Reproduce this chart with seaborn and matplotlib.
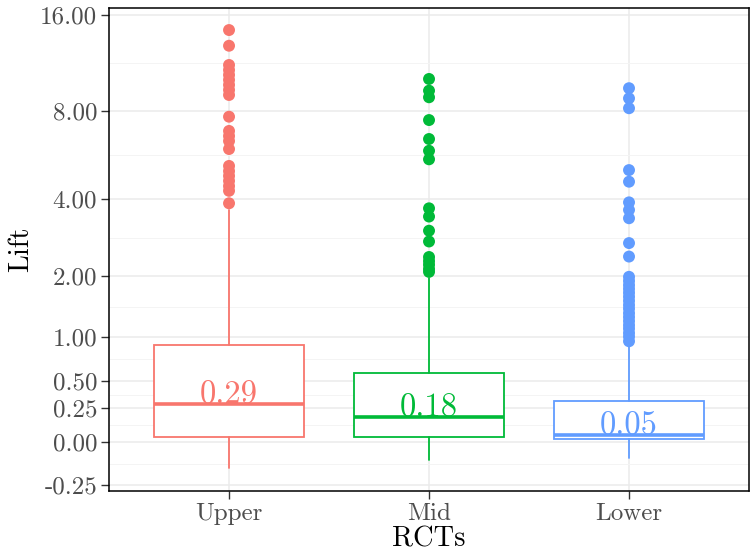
import numpy as np
import pandas as pd
import matplotlib
matplotlib.use("Agg")
import matplotlib.pyplot as plt
import seaborn as sns

# ---------------- data ----------------
groups = ["Upper", "Mid", "Lower"]
colors = ["#F8766D", "#00BA38", "#619CFF"]

q1 = [0.032, 0.032, 0.018]
medians = [0.29, 0.18, 0.05]
q3 = [0.90, 0.577, 0.31]
whisker_low = [-0.159, -0.112, -0.102]
whisker_high = [3.66, 1.96, 0.90]
median_labels = ["0.29", "0.18", "0.05"]

outliers_upper = [14.37, 12.85, 11.19, 10.79, 10.41, 10.04, 9.68, 9.33, 8.99,
                  7.65, 6.87, 6.61, 6.36, 5.98, 5.24, 5.03, 4.84, 4.65, 4.46,
                  4.29, 3.87]
outliers_mid = [10.11, 9.28, 8.84, 7.46, 6.46, 5.90, 5.52, 3.71, 3.46, 3.06,
                2.78, 2.41, 2.32, 2.24, 2.15, 2.09]
outliers_lower = [9.45, 8.77, 8.15, 5.07, 4.62, 3.90, 3.66, 3.41, 2.74, 2.42,
                  1.99, 1.91, 1.83, 1.76, 1.69, 1.62, 1.55, 1.48, 1.42, 1.35,
                  1.29, 1.23, 1.17, 1.12, 1.06, 1.01, 0.95]

y_ticks = [-0.25, 0.0, 0.25, 0.5, 1.0, 2.0, 4.0, 8.0, 16.0]
y_tick_labels = ["-0.25", "0.00", "0.25", "0.50", "1.00", "2.00", "4.00", "8.00", "16.00"]

# ---------------- style ----------------
sns.set_theme(style="whitegrid")
plt.rcParams["font.family"] = ["cmr10", "DejaVu Serif"]
plt.rcParams["mathtext.fontset"] = "cm"
plt.rcParams["axes.unicode_minus"] = False
plt.rcParams["axes.formatter.use_mathtext"] = True

fig = plt.figure(figsize=(7.53, 5.52), dpi=100)
ax = fig.add_axes([0.1448, 0.1105, 0.8499, 0.875])


def fwd(y):
    y = np.asarray(y, dtype=float)
    return np.log2(1.0 + np.clip(y, -0.999, None))


def inv(t):
    return np.power(2.0, np.asarray(t, dtype=float)) - 1.0


# outliers via seaborn
out_df = pd.DataFrame({
    "group": (["Upper"] * len(outliers_upper) + ["Mid"] * len(outliers_mid)
              + ["Lower"] * len(outliers_lower)),
    "value": outliers_upper + outliers_mid + outliers_lower,
})
sns.stripplot(data=out_df, x="group", y="value", hue="group", order=groups,
              hue_order=groups, palette=colors, jitter=False, size=8.6,
              linewidth=0, legend=False, ax=ax, zorder=4)

# boxes
for i, g in enumerate(groups):
    stats = [dict(med=medians[i], q1=q1[i], q3=q3[i],
                  whislo=whisker_low[i], whishi=whisker_high[i], fliers=[])]
    ax.bxp(stats, positions=[i], widths=0.75, patch_artist=True,
           showcaps=False, showfliers=False,
           boxprops=dict(facecolor="white", edgecolor=colors[i], linewidth=1.3),
           medianprops=dict(color=colors[i], linewidth=2.6),
           whiskerprops=dict(color=colors[i], linewidth=1.3),
           zorder=3)
    ax.text(i, medians[i], median_labels[i], color=colors[i], ha="center",
            va="baseline", fontsize=23.5, zorder=5)

ax.set_yscale("function", functions=(fwd, inv))
ax.set_ylim(-0.278, 16.79)
ax.set_xlim(-0.6, 2.6)

# ticks
ax.set_yticks(y_ticks, y_tick_labels)
tt = fwd(y_ticks)
minor = inv((tt[:-1] + tt[1:]) / 2)
ax.set_yticks(minor, minor=True)
ax.set_xticks(range(len(groups)), groups)

ax.tick_params(axis="both", which="major", labelsize=18, labelcolor="#4D4D4D",
               color="#333333", length=5.5, width=1.0, pad=3, left=True, bottom=True)
ax.tick_params(axis="y", which="minor", length=0)

ax.grid(True, which="major", axis="both", color="#EBEBEB", linewidth=1.1, zorder=0)
ax.grid(True, which="minor", axis="y", color="#F4F4F4", linewidth=0.7, zorder=0)
ax.set_axisbelow(True)

for s in ax.spines.values():
    s.set_visible(True)
    s.set_color("black")
    s.set_linewidth(1.1)

ax.set_xlabel("RCTs", fontsize=20.5, color="black", labelpad=1)
ax.set_ylabel("Lift", fontsize=20.5, color="black", labelpad=4)

fig.savefig("out.png", dpi=100)
